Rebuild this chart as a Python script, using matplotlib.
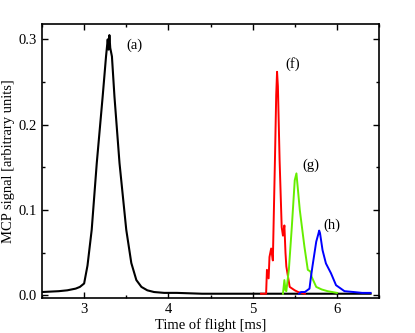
import matplotlib
matplotlib.use("Agg")
import matplotlib.pyplot as plt
from matplotlib.ticker import MultipleLocator, FormatStrFormatter

plt.rcParams['font.family'] = ['Liberation Serif', 'DejaVu Serif']

# (a) black
xa = [2.5, 2.6, 2.7, 2.8, 2.9, 2.95, 3.0, 3.04, 3.09, 3.15, 3.22, 3.26, 3.28, 3.29, 3.30, 3.31,
      3.33, 3.36, 3.42, 3.50, 3.56, 3.62, 3.68, 3.75, 3.83, 3.95, 4.1, 4.4, 4.8, 5.2, 5.6, 6.0, 6.4]
ya = [0.004, 0.0045, 0.005, 0.006, 0.008, 0.010, 0.014, 0.035, 0.077, 0.155, 0.233, 0.28, 0.30,
      0.288, 0.305, 0.29, 0.28, 0.233, 0.155, 0.077, 0.038, 0.018, 0.010, 0.006, 0.004, 0.003,
      0.003, 0.002, 0.002, 0.002, 0.002, 0.002, 0.002]

# (f) red
xf = [5.10, 5.16, 5.17, 5.19, 5.20, 5.22, 5.24, 5.265, 5.28, 5.29, 5.30, 5.32, 5.345, 5.36, 5.377,
      5.39, 5.40, 5.44, 5.50, 5.54, 5.62]
yf = [0.002, 0.002, 0.03, 0.02, 0.045, 0.055, 0.041, 0.159, 0.235, 0.262, 0.245, 0.159, 0.08, 0.07,
      0.082, 0.05, 0.034, 0.010, 0.006, 0.004, 0.002]

# (g) green
xg = [5.36, 5.377, 5.39, 5.40, 5.43, 5.465, 5.50, 5.52, 5.56, 5.615, 5.655, 5.687, 5.70, 5.755,
      5.82, 5.89, 6.0]
yg = [0.002, 0.018, 0.006, 0.005, 0.03, 0.08, 0.135, 0.143, 0.10, 0.057, 0.03, 0.028, 0.022,
      0.010, 0.007, 0.005, 0.003]

# (h) blue
xh = [5.55, 5.575, 5.62, 5.675, 5.69, 5.71, 5.755, 5.78, 5.79, 5.80, 5.83, 5.87, 5.93, 5.99, 6.09,
      6.2, 6.3, 6.4]
yh = [0.002, 0.004, 0.004, 0.008, 0.02, 0.034, 0.063, 0.072, 0.076, 0.073, 0.053, 0.0375, 0.026,
      0.012, 0.005, 0.004, 0.003, 0.003]

labels = ['(a)', '(f)', '(g)', '(h)']
label_x = [3.6, 5.48, 5.69, 5.94]
label_y = [0.293, 0.271, 0.152, 0.0825]

fig = plt.figure(figsize=(4.15, 3.33), dpi=100)
ax = fig.add_axes([42/415, 1 - 298/333, (379-42)/415, (298-24)/333])

ax.plot(xa, ya, color='black', lw=1.5)
ax.plot(xf, yf, color='#ff0000', lw=1.4)
ax.plot(xg, yg, color='#66ee00', lw=1.4)
ax.plot(xh, yh, color='#0000ff', lw=1.4)

for t, x, y in zip(labels, label_x, label_y):
    ax.text(x, y, t, fontsize=10.5, ha='center', va='center')

ax.set_xlim(2.5, 6.5)
ax.set_ylim(-0.003, 0.318)
ax.xaxis.set_major_locator(MultipleLocator(1))
ax.xaxis.set_minor_locator(MultipleLocator(0.5))
ax.yaxis.set_major_locator(MultipleLocator(0.1))
ax.yaxis.set_minor_locator(MultipleLocator(0.05))
ax.yaxis.set_major_formatter(FormatStrFormatter('%.1f'))
ax.tick_params(which='both', direction='in', top=True, right=True, labelsize=10.5)
ax.tick_params(which='major', length=4, width=1)
ax.tick_params(which='minor', length=2.5, width=1)
for s in ax.spines.values():
    s.set_linewidth(1.2)

ax.set_xlabel('Time of flight [ms]', fontsize=10.5, labelpad=2)
ax.set_ylabel('MCP signal [arbitrary units]', fontsize=10.5, labelpad=3)

fig.savefig('out.png', dpi=100)
